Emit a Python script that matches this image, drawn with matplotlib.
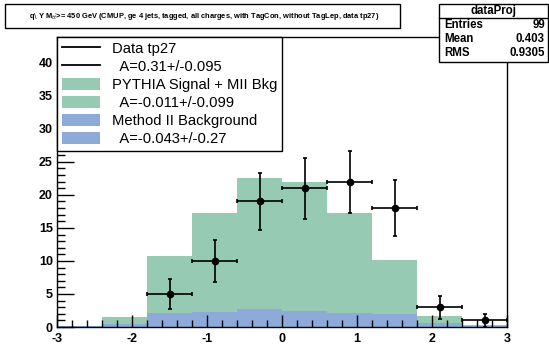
import numpy as np
import matplotlib
matplotlib.use("Agg")
import matplotlib.pyplot as plt
from matplotlib.lines import Line2D
from matplotlib.patches import Patch, Rectangle
from matplotlib.ticker import MultipleLocator

plt.rcParams['font.family'] = ['Liberation Sans', 'DejaVu Sans']
plt.rcParams['axes.unicode_minus'] = False

# binning of the projection
edges = np.linspace(-3, 3, 11)
centers = 0.5 * (edges[:-1] + edges[1:])

# stacked MC: total (signal + bkg) and Method II background
mc_total = [0.2, 1.5, 10.7, 17.3, 22.5, 21.9, 17.2, 10.1, 1.7, 0.3]
mc_bkg = [0.2, 0.5, 2.1, 2.2, 2.7, 2.4, 2.1, 2.0, 0.6, 0.2]

# data tp27
data = [0, 0, 5, 10, 19, 21, 22, 18, 3, 1]
data_err = [0, 0, 2.24, 3.16, 4.36, 4.58, 4.69, 4.24, 1.73, 1.0]

labels = ["Data tp27", "  A=0.31+/-0.095",
          "PYTHIA Signal + MII Bkg", "  A=-0.011+/-0.099",
          "Method II Background", "  A=-0.043+/-0.27"]
stats = [("Entries", "99"), ("Mean", "0.403"), ("RMS", "0.9305")]
title = (r"q$\backslash$ Y M$_{t\bar{t}}$>= 450 GeV (CMUP, ge 4 jets, tagged, "
         "all charges, with TagCon, without TagLep, data tp27)")

green = "#97cab2"
blue = "#8eaad9"

W, H = 549, 347
fig = plt.figure(figsize=(W / 100, H / 100), dpi=100)
ax = fig.add_axes([57 / W, (H - 327) / H, 450 / W, 290 / H])

ax.stairs(mc_total, edges, fill=True, color=green, zorder=1)
ax.stairs(mc_bkg, edges, fill=True, color=blue, zorder=1.1)

mask = np.array(data) > 0
ax.errorbar(centers[mask], np.array(data)[mask], xerr=0.3,
            yerr=np.array(data_err)[mask], fmt='o', color='black',
            ms=4.5, lw=1.2, capsize=1.5, capthick=1.2, zorder=3)

ax.set_xlim(-3, 3)
ax.set_ylim(0, 43.9)
ax.xaxis.set_major_locator(MultipleLocator(1))
ax.xaxis.set_minor_locator(MultipleLocator(0.2))
ax.yaxis.set_major_locator(MultipleLocator(5))
ax.yaxis.set_minor_locator(MultipleLocator(1))
ax.tick_params(axis='both', which='both', direction='in', top=False, right=False,
               labelsize=9, width=1)
ax.tick_params(axis='y', which='major', length=12, pad=3)
ax.tick_params(axis='y', which='minor', length=6)
ax.tick_params(axis='x', which='major', length=9, pad=4)
ax.tick_params(axis='x', which='minor', length=5)
for lab in ax.get_xticklabels() + ax.get_yticklabels():
    lab.set_fontweight('bold')
ax.set_axisbelow(False)
for sp in ax.spines.values():
    sp.set_linewidth(1)

handles = [Line2D([], [], color='black', lw=1.3), Line2D([], [], color='black', lw=1.3),
           Patch(facecolor=green, edgecolor='none'), Patch(facecolor=green, edgecolor='none'),
           Patch(facecolor=blue, edgecolor='none'), Patch(facecolor=blue, edgecolor='none')]
leg = ax.legend(handles, labels, loc='upper left', bbox_to_anchor=(0, 1),
                fontsize=10.6, frameon=True, fancybox=False, edgecolor='black',
                framealpha=1, borderaxespad=0, handlelength=2.6, handleheight=0.9,
                labelspacing=0.26, borderpad=0.32, handletextpad=0.8)
leg.get_frame().set_linewidth(1)

# title box
fig.patches.append(Rectangle((5 / W, 1 - 28 / H), 395 / W, 24 / H,
                             transform=fig.transFigure, facecolor='white',
                             edgecolor='black', lw=1))
fig.text(204 / W, 1 - 16 / H, title, ha='center', va='center', fontsize=5.37,
         fontweight='bold')

# stats box
x0, x1 = 439 / W, 548 / W
y_top, y_bot = 1 - 4 / H, 1 - 62 / H
fig.patches.append(Rectangle((x0, y_bot), x1 - x0, y_top - y_bot,
                             transform=fig.transFigure, facecolor='white',
                             edgecolor='black', lw=1, zorder=5))
fig.lines.append(Line2D([x0, x1], [1 - 18 / H, 1 - 18 / H],
                        transform=fig.transFigure, color='black', lw=1, zorder=6))
fig.text((x0 + x1) / 2, 1 - 11 / H, "dataProj", ha='center', va='center',
         fontsize=8.3, fontweight='bold', zorder=7)
for i, (k, v) in enumerate(stats):
    yy = 1 - (25.5 + 14 * i) / H
    fig.text(x0 + 5 / W, yy, k, ha='left', va='center', fontsize=8.3,
             fontweight='bold', zorder=7)
    fig.text(x1 - 3 / W, yy, v, ha='right', va='center', fontsize=8.3,
             fontweight='bold', zorder=7)

fig.savefig("out.png", dpi=100)
